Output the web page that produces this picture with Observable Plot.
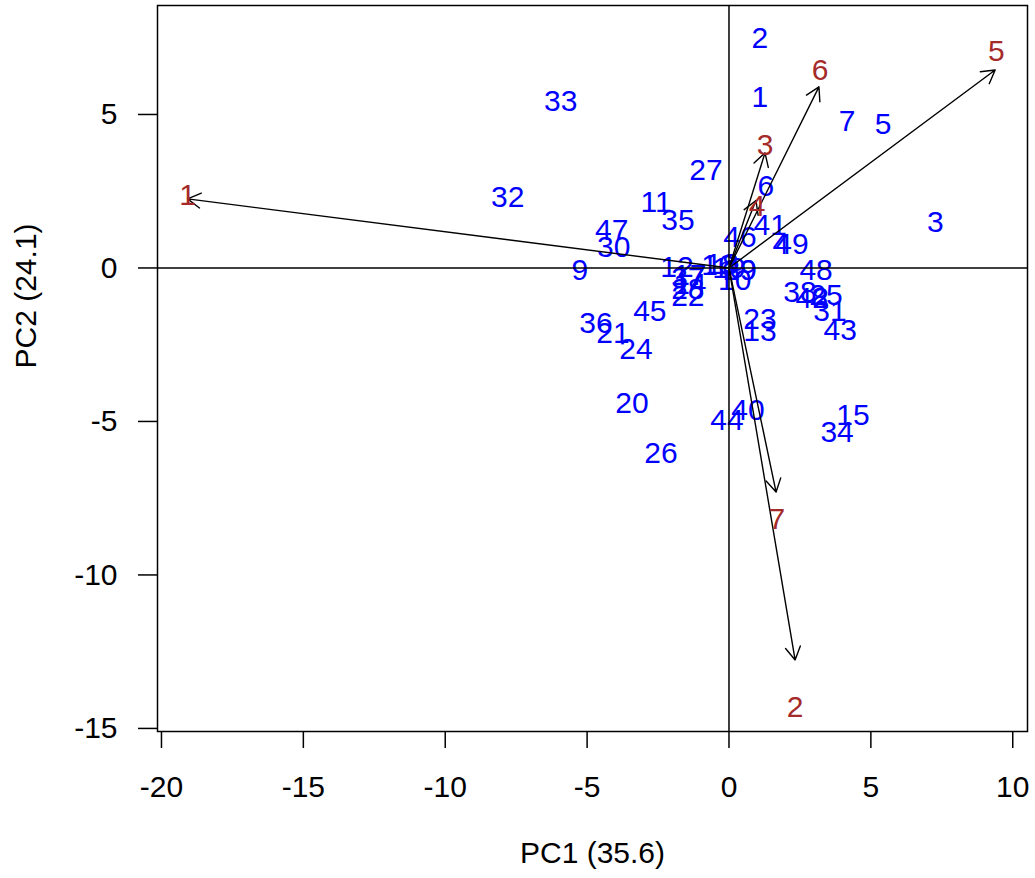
<!DOCTYPE html>
<html>
<head>
<meta charset="utf-8">
<script src="https://cdn.jsdelivr.net/npm/d3@7"></script>
<script src="https://cdn.jsdelivr.net/npm/@observablehq/plot@0.6"></script>
<style>
  html, body { margin: 0; padding: 0; background: #fff; }
  #chart svg { display: block; }
</style>
</head>
<body>
<div id="chart"></div>
<script>
// Observation scores (labels 1..49)
const obsLabel = ["1","2","3","4","5","6","7","8","9","10","11","12","13","14","15","16","17","18","19","20","21","22","23","24","25","26","27","28","29","30","31","32","33","34","35","36","37","38","39","40","41","42","43","44","45","46","47","48","49"];
const obsPC1 = [1.09,1.09,7.27,1.83,5.43,1.3,4.16,3.2,-5.26,0.2,-2.57,-1.83,1.09,-1.38,4.37,-0.39,-1.38,-0.25,0.0,-3.42,-4.09,-1.45,1.09,-3.28,3.42,-2.4,-0.81,-1.45,0.39,-4.06,3.56,-7.8,-5.93,3.81,-1.8,-4.69,-1.45,2.5,0.39,0.67,1.45,2.93,3.92,-0.07,-2.79,0.39,-4.13,3.07,2.22];
const obsPC2 = [5.57,7.49,1.5,0.78,4.69,2.67,4.76,-1.0,-0.07,-0.4,2.12,0.03,-2.08,-0.55,-4.79,0.1,-0.23,0.13,0.0,-4.4,-2.12,-0.94,-1.69,-2.64,-0.88,-6.03,3.19,-0.7,-0.07,0.68,-1.43,2.31,5.44,-5.34,1.56,-1.82,-0.33,-0.78,-0.07,-4.63,1.4,-0.98,-2.02,-4.95,-1.43,1.01,1.24,-0.07,0.78];

// Variable loadings (arrow tips) and label positions
const varLabel = ["1","2","3","4","5","6","7"];
const varTipX = [-19.08,2.33,1.27,0.95,9.38,3.17,1.66];
const varTipY = [2.25,-12.77,3.75,2.2,6.45,5.9,-7.3];
const varLabX = [-19.08,2.33,1.27,0.99,9.42,3.21,1.69];
const varLabY = [2.38,-14.33,4.0,2.0,7.04,6.45,-8.2];

const xTicks = [-20,-15,-10,-5,0,5,10];
const yTicks = [-15,-10,-5,0,5];
const xTitle = "PC1 (35.6)";
const yTitle = "PC2 (24.1)";

const obs = obsLabel.map((l,i)=>({label:l, x:obsPC1[i], y:obsPC2[i]}));
const vars = varLabel.map((l,i)=>({label:l, x2:varTipX[i], y2:varTipY[i], lx:varLabX[i], ly:varLabY[i]}));

const FONT = "'Liberation Sans', Arial, Helvetica, sans-serif";
const FS = 30;

const chart = Plot.plot({
  width: 1035,
  height: 878,
  marginLeft: 157,
  marginRight: 8,
  marginTop: 5,
  marginBottom: 147,
  style: {fontFamily: FONT, fontSize: FS + "px", background: "#fff", color: "#000"},
  x: {domain: [-20.14, 10.52], nice: false},
  y: {domain: [-15.1, 8.55], nice: false},
  marks: [
    Plot.text(obs, {x:"x", y:"y", text:"label", fill:"#0000FF", fontSize: FS, textAnchor:"middle"}),
    Plot.ruleX([0], {stroke:"#000", strokeWidth:1.5}),
    Plot.ruleY([0], {stroke:"#000", strokeWidth:1.5}),
    Plot.arrow(vars, {x1: () => 0, y1: () => 0, x2:"x2", y2:"y2", stroke:"#000", strokeWidth:1.4, headLength:16, headAngle:60}),
    Plot.text(vars, {x:"lx", y:"ly", text:"label", fill:"#A52A2A", fontSize: FS, textAnchor:"middle"}),
    Plot.frame({stroke:"#000", strokeWidth:1.5}),
    Plot.axisX({ticks: xTicks, tickSize: 17, tickPadding: 27, fontSize: FS, label: null, tickFormat: d => String(d), strokeWidth: 1.5}),
    Plot.axisY({ticks: yTicks, tickSize: 19, tickPadding: 21, fontSize: FS, label: null, tickFormat: d => String(d), strokeWidth: 1.5}),
    Plot.text([xTitle], {frameAnchor:"bottom", dy: 131, fontSize: FS, fill:"#000"}),
    Plot.text([yTitle], {frameAnchor:"left", dx: -131, rotate: -90, fontSize: FS, fill:"#000"})
  ]
});
document.getElementById("chart").appendChild(chart);
</script>
</body>
</html>
